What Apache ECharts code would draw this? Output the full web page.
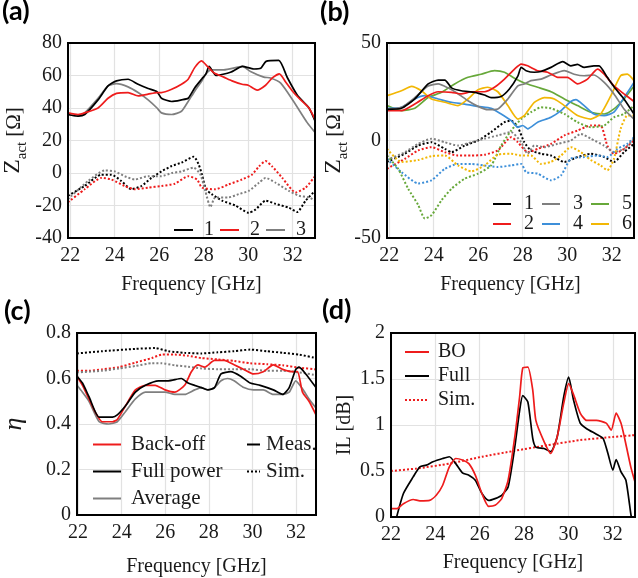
<!DOCTYPE html>
<html>
<head>
<meta charset="utf-8">
<script src="https://cdn.jsdelivr.net/npm/echarts@6/dist/echarts.min.js"></script>
<style>
  html, body { margin: 0; padding: 0; background: #fff; }
  #chart { width: 638px; height: 578px; }
</style>
</head>
<body>
<div id="chart"></div>
<script>
// ---------- (a) active impedance, ports 1-3 ----------
const aMeas1 = [[21.9,36],[22.35,35],[22.65,36],[23.25,45],[23.7,53.6],[24.08,56.7],[24.6,57.7],[25.05,54.6],[25.5,52],[25.9,50],[26.1,46],[26.56,44],[27.0,45],[27.3,46],[27.6,52.5],[27.92,58],[28.1,61],[28.24,65.6],[28.55,60],[29.2,62],[29.74,65.6],[30.25,64],[30.56,64.4],[30.8,68.7],[31.37,69.3],[31.76,58.6],[32.2,48],[32.73,40],[33,32]];
const aMeas2 = [[21.9,37],[22.35,36],[22.65,37],[23.25,40],[23.7,46],[24.08,49],[24.6,49.5],[25.05,47.5],[25.5,48.5],[25.9,49.5],[26.1,49.5],[26.56,51.5],[27.0,54.6],[27.3,57.7],[27.6,65],[27.9,69],[28.1,66.6],[28.47,61.5],[28.9,59],[29.27,56.7],[29.72,54.6],[30.0,54],[30.4,51],[30.78,54],[31.08,58.5],[31.4,61],[31.68,56],[31.98,50.5],[32.28,46],[32.73,40],[33,33]];
const aMeas3 = [[21.9,36],[22.35,35],[22.65,37],[23.25,46],[23.7,53.6],[24.08,55],[24.6,53],[25.05,49.5],[25.5,45],[25.9,40],[26.1,37],[26.56,36],[27.0,38],[27.3,44],[27.6,50.5],[27.92,56.7],[28.1,61],[28.33,63.5],[28.9,63.5],[29.74,65.6],[30.1,62.5],[30.7,59],[31.0,58.5],[31.46,55.3],[32.04,44],[32.65,31],[33,25]];
const aSim1 = [[21.9,-14],[22.65,-8],[23.4,-1],[23.85,-1],[24.3,-5],[24.75,-10],[25.2,-8],[25.65,-3],[26.1,1],[26.56,4.3],[27.0,6.4],[27.55,10],[27.77,5.4],[27.92,-1],[28.1,-10],[28.36,-13],[28.82,-17],[29.42,-20],[30.02,-24.5],[30.33,-22.5],[30.78,-17],[31.23,-19],[31.83,-21.4],[32.2,-24],[32.58,-17],[33,-11]];
const aSim2 = [[21.9,-18],[22.65,-10],[23.4,-3],[23.85,-4],[24.45,-8],[24.9,-10],[25.5,-9],[26.1,-8],[26.7,-6.6],[27.3,-2],[27.7,-4],[27.92,-9],[28.52,-10],[29.12,-7],[29.72,-4],[30.17,-1],[30.48,4],[30.78,7.4],[31.08,4],[31.53,-3],[32.13,-12],[32.58,-9],[33,-2]];
const aSim3 = [[21.9,-16],[22.8,-5],[23.55,1.6],[24.0,1],[24.45,-2],[24.9,-4],[25.5,-2],[26.1,-2],[26.56,0],[27.0,1],[27.55,3.3],[27.85,-1],[28.07,-11],[28.3,-21],[28.52,-15],[29.12,-15],[29.57,-13],[30.02,-11],[30.48,-6],[30.78,-3],[31.23,-6],[31.83,-11],[32.28,-14],[32.73,-15],[33,-17]];

// ---------- (b) active impedance, ports 1-6 ----------
const bMeas1 = [[21.9,16],[22.55,16.5],[23.15,21.3],[23.75,29],[24.2,31],[24.5,31],[24.8,27],[25.24,25.5],[25.84,24.7],[26.28,23.3],[26.58,22],[27.03,22.6],[27.4,26.4],[27.78,33],[27.93,37.5],[28.15,35.8],[28.52,35],[28.82,35.4],[29.27,37.5],[29.8,40.4],[30.16,38.3],[30.46,39],[30.76,37.5],[31.2,38.3],[31.43,38.3],[31.8,32.4],[32.18,26.4],[32.55,21.3],[33,13.6]];
const bMeas2 = [[21.9,15.3],[22.55,15.3],[23.15,18.7],[23.75,23],[24.2,25],[24.8,24.7],[25.24,23.9],[25.69,25],[26.28,25],[26.73,27.3],[27.18,31.5],[27.63,36.6],[27.93,39.2],[28.22,38.3],[28.67,35.8],[29.12,35],[29.57,32.4],[30.01,32.4],[30.46,29],[30.91,31.5],[31.36,36.6],[31.66,34],[32.1,28],[32.55,23.9],[33,20]];
const bMeas3 = [[21.9,16],[22.55,17],[23.15,22],[23.75,28],[24.2,29],[24.64,27],[25.09,24],[25.54,20.4],[25.99,17.5],[26.43,15.8],[26.88,16.2],[27.33,21.3],[27.78,28],[28.07,29],[28.37,30.7],[28.82,31.5],[29.27,33.6],[29.87,35.8],[30.31,34],[30.76,33.2],[31.2,33.6],[31.66,29.8],[32.1,23.9],[32.55,16.2],[33,11]];
const bMeas4 = [[21.9,16.5],[22.55,17],[23.15,21.3],[23.6,23],[24.2,21.3],[24.8,19.6],[25.39,18.7],[25.99,17.5],[26.58,16.5],[27.03,13.6],[27.48,10.2],[27.78,6.8],[28.0,7.7],[28.22,6],[28.67,9.4],[29.27,11.9],[29.72,15.3],[30.16,20],[30.39,21],[30.76,17.9],[31.2,13.6],[31.66,12.8],[32.1,14.5],[32.55,22],[33,29.8]];
const bMeas5 = [[21.9,17.9],[22.55,15.3],[23.15,16.5],[23.75,22],[24.35,24.7],[24.94,29],[25.54,32.4],[26.13,34],[26.73,35.8],[27.18,35],[27.63,31.9],[28.07,29.5],[28.67,27.3],[29.27,25],[29.87,21.3],[30.46,17.9],[31.06,14.5],[31.66,13.6],[32.1,16.2],[32.55,21.3],[33,28]];
const bMeas6 = [[21.9,23],[22.55,25.5],[23.0,27.8],[23.45,25.5],[23.9,21.3],[24.5,19.6],[25.09,17.9],[25.54,21.3],[25.99,26],[26.43,27.3],[26.88,25],[27.33,17.9],[27.78,11],[28.07,12.8],[28.52,19.6],[28.97,22],[29.42,21.3],[29.87,17.9],[30.46,12.8],[31.06,11],[31.5,13.6],[31.96,23],[32.4,33.2],[32.7,34],[33,30.7]];
const bSim1 = [[21.9,-11],[22.7,-6.8],[23.3,-2.6],[23.9,-0.9],[24.5,-4.3],[24.8,-6],[25.39,-2.6],[25.99,0],[26.58,4.3],[27.18,9.4],[27.48,10.2],[27.78,6.8],[28.07,-0.9],[28.37,-5.1],[28.82,-6.8],[29.27,-7.7],[29.87,-11],[30.46,-8.5],[31.06,-6.8],[31.66,-8.5],[32.1,-11],[32.55,-6],[33,-1.7]];
const bSim2 = [[21.9,-14.5],[22.7,-9.4],[23.3,-5.1],[23.9,-3.4],[24.5,-6],[25.09,-7.7],[25.69,-7.7],[26.28,-7.3],[26.88,-5.1],[27.48,1.7],[27.78,-0.9],[28.22,-6],[28.67,-4.3],[29.27,-1.7],[29.87,2.6],[30.46,5.1],[31.06,7.7],[31.5,7.7],[31.8,-2.6],[32.1,-6.8],[32.55,-4.3],[33,0]];
const bSim3 = [[21.9,-10],[22.7,-6],[23.3,-1.7],[23.9,0.9],[24.5,-0.9],[25.09,-2.6],[25.69,-0.9],[26.28,0.9],[26.88,2.6],[27.48,4.3],[27.93,-0.9],[28.22,-6.8],[28.52,-2.6],[28.97,-3.4],[29.57,-1.7],[30.16,0],[30.61,3.4],[31.06,0.9],[31.66,-2.6],[32.1,-6],[32.55,-4.3],[33,0.9]];
const bSim4 = [[21.9,-9.4],[22.55,-16.2],[23.3,-22],[23.9,-20.4],[24.5,-14.5],[25.09,-12],[25.69,-12],[26.28,-12.8],[26.88,-13.6],[27.48,-12.8],[27.93,-12],[28.15,-16.2],[28.67,-17],[29.27,-20.4],[29.72,-17.9],[30.16,-9.4],[30.76,-8.5],[31.36,-7.7],[31.8,-8.5],[32.25,-4.3],[32.7,-1.7],[33,1.7]];
const bSim5 = [[21.9,-7.7],[22.4,-14.5],[22.85,-24.7],[23.3,-33],[23.6,-40],[23.9,-38.3],[24.35,-30.7],[24.8,-24.7],[25.39,-19.6],[25.99,-17],[26.58,-12.8],[27.03,-2.6],[27.48,5.1],[27.93,11],[28.37,14.5],[28.82,17],[29.27,16.5],[29.87,13.6],[30.46,9.4],[31.06,6.8],[31.66,7.7],[32.1,11.9],[32.55,13.6],[33,17.9]];
const bSim6 = [[21.9,-4.3],[22.55,-11],[23.3,-10],[23.9,-8],[24.5,-7.7],[25.09,-12.8],[25.69,-15.8],[26.28,-12.8],[26.88,-7.3],[27.48,-6.8],[27.93,-7.7],[28.37,-7.7],[28.82,-12],[29.27,-11],[29.72,-7.7],[30.16,-3.4],[30.61,-6],[31.06,-10],[31.5,-12.8],[31.8,-15.3],[32.1,-9.4],[32.4,6],[32.7,12.8],[33,12.8]];

// ---------- (c) efficiency ----------
const cBackoff = [[21.95,0.61],[22.2,0.57],[22.5,0.51],[22.8,0.45],[23.1,0.41],[23.58,0.41],[23.8,0.42],[24.18,0.48],[24.63,0.55],[25.09,0.57],[25.54,0.57],[25.99,0.55],[26.44,0.54],[26.89,0.57],[27.2,0.63],[27.5,0.66],[27.81,0.65],[28.26,0.68],[28.71,0.68],[29.16,0.66],[29.61,0.64],[30.05,0.62],[30.5,0.63],[30.96,0.66],[31.39,0.64],[31.84,0.63],[32.07,0.63],[32.3,0.54],[32.6,0.50],[32.92,0.44]];
const cFull = [[21.95,0.61],[22.2,0.58],[22.5,0.52],[22.97,0.43],[23.58,0.43],[23.8,0.44],[24.18,0.48],[24.63,0.54],[25.09,0.57],[25.69,0.59],[26.14,0.59],[26.74,0.6],[27.05,0.58],[27.35,0.57],[27.66,0.56],[27.96,0.55],[28.26,0.56],[28.56,0.62],[29.01,0.63],[29.46,0.61],[29.9,0.58],[30.36,0.57],[30.96,0.55],[31.39,0.53],[31.69,0.56],[31.99,0.64],[32.14,0.65],[32.45,0.62],[32.92,0.56]];
const cAverage = [[21.95,0.57],[22.2,0.54],[22.5,0.50],[22.97,0.41],[23.4,0.40],[23.8,0.41],[24.18,0.455],[24.63,0.51],[25.09,0.54],[25.54,0.54],[25.99,0.54],[26.44,0.53],[26.89,0.53],[27.35,0.55],[27.66,0.56],[27.96,0.55],[28.26,0.56],[28.56,0.59],[28.86,0.6],[29.16,0.59],[29.61,0.56],[30.05,0.55],[30.5,0.55],[30.96,0.53],[31.39,0.53],[31.69,0.54],[31.99,0.59],[32.3,0.555],[32.6,0.51],[32.92,0.47]];
const cSimFull = [[21.95,0.71],[23.1,0.72],[24.63,0.73],[25.54,0.734],[26.14,0.72],[26.89,0.713],[27.66,0.71],[28.41,0.715],[29.16,0.72],[29.9,0.727],[30.66,0.72],[31.39,0.713],[32.14,0.705],[32.92,0.69]];
const cSimBackoff = [[21.95,0.634],[22.5,0.634],[23.1,0.64],[23.88,0.65],[24.63,0.67],[25.39,0.69],[25.84,0.705],[26.44,0.705],[27.05,0.70],[27.66,0.69],[28.41,0.684],[29.16,0.677],[29.9,0.667],[30.66,0.663],[31.39,0.658],[32.14,0.648],[32.92,0.64]];
const cSimAverage = [[21.95,0.627],[23.1,0.634],[23.88,0.644],[24.63,0.655],[25.39,0.667],[25.84,0.667],[26.44,0.658],[27.05,0.652],[27.66,0.644],[28.41,0.641],[29.16,0.641],[29.9,0.641],[30.66,0.634],[31.39,0.634],[32.14,0.627],[32.92,0.615]];

// ---------- (d) insertion loss ----------
const dBO = [[22,0.09],[22.27,0.09],[22.56,0.145],[23.0,0.19],[23.3,0.175],[23.74,0.18],[24.04,0.236],[24.33,0.345],[24.63,0.545],[24.92,0.636],[25.22,0.62],[25.51,0.58],[25.8,0.455],[26.1,0.255],[26.4,0.116],[26.69,0.127],[26.99,0.2],[27.28,0.4],[27.58,0.87],[27.8,1.31],[27.94,1.62],[28.17,1.63],[28.39,1.38],[28.53,1.05],[28.9,0.82],[29.2,0.69],[29.49,0.87],[29.79,1.24],[30.01,1.45],[30.23,1.33],[30.53,1.13],[30.82,1.05],[31.26,1.05],[31.7,1.02],[31.93,0.945],[32.15,1.13],[32.37,1.02],[32.52,0.87],[32.81,0.545],[33,0.38]];
const dFull = [[22.2,-0.05],[22.56,0.255],[23.0,0.436],[23.3,0.545],[23.59,0.564],[23.89,0.6],[24.33,0.636],[24.63,0.655],[24.92,0.58],[25.22,0.48],[25.51,0.455],[25.8,0.4],[26.1,0.255],[26.4,0.18],[26.69,0.2],[26.99,0.236],[27.28,0.327],[27.58,0.76],[27.8,1.16],[27.94,1.32],[28.17,1.25],[28.39,0.855],[28.53,0.76],[28.9,0.745],[29.2,0.71],[29.49,0.87],[29.79,1.31],[30.01,1.52],[30.23,1.27],[30.53,1.02],[30.82,0.96],[31.26,0.9],[31.56,0.855],[31.78,0.69],[32,0.51],[32.15,0.625],[32.37,0.49],[32.59,0.4],[32.81,0.036],[32.9,-0.1]];
const dSim = [[22,0.5],[23.15,0.527],[24.63,0.58],[26.1,0.655],[27.58,0.72],[29.05,0.78],[30.53,0.836],[32,0.87],[33,0.89]];

// y-axis extents and tick step: [min, max, interval]
const yTicksA = [-40, 80, 20];
const yTicksB = [-50, 50, 50];
const yTicksC = [0, 0.8, 0.2];
const yTicksD = [0, 2, 0.5];

const SERIF = '"Liberation Serif", "DejaVu Serif", serif';
const TXT = '#1a1a1a';
const C = { black: '#000000', red: '#ee1c1c', gray: '#7f7f7f', blue: '#3d8fd9', green: '#67a83a', yellow: '#f2b705' };

const legendNames = {
  a1: '1', a2: '2', a3: '3',
  b1: '1', b2: '2', b3: '3', b4: '4', b5: '5', b6: '6',
  'Back-off': 'Back-off', 'Full power': 'Full power', 'Average': 'Average',
  cMeas: 'Meas.', cSim: 'Sim.', BO: 'BO', Full: 'Full', dSim: 'Sim.'
};

const grids = [
  { left: 67, top: 43, width: 248, height: 195 },
  { left: 387, top: 43, width: 247, height: 195 },
  { left: 74, top: 333, width: 242, height: 186 },
  { left: 391, top: 333, width: 250, height: 184 }
].map(g => Object.assign(g, { show: true, borderColor: '#000', borderWidth: 2, containLabel: false, z: 5 }));

const evenLabel = v => (Math.abs(v - Math.round(v)) < 1e-6 && Math.round(v) % 2 === 0) ? String(Math.round(v)) : '';

function xAxis(idx, min, max, gap) {
  return {
    type: 'value', gridIndex: idx, min: min, max: max, splitNumber: 5,
    name: 'Frequency [GHz]', nameLocation: 'middle', nameGap: gap,
    nameTextStyle: { fontFamily: SERIF, fontSize: 20, color: TXT },
    axisLine: { show: false }, axisTick: { show: false },
    axisLabel: { formatter: evenLabel, fontFamily: SERIF, fontSize: 20, color: TXT, margin: 8 },
    splitLine: { show: true, lineStyle: { color: '#e2e2e2', width: 1.2 } }
  };
}

function yAxis(idx, ticks, name, gap, nameStyle) {
  return {
    type: 'value', gridIndex: idx, min: ticks[0], max: ticks[1], interval: ticks[2],
    name: name, nameLocation: 'middle', nameGap: gap, nameRotate: 90,
    nameTextStyle: Object.assign({ fontFamily: SERIF, fontSize: 20, color: TXT }, nameStyle || {}),
    axisLine: { show: false }, axisTick: { show: false },
    axisLabel: { fontFamily: SERIF, fontSize: 20, color: TXT, margin: 6 },
    splitLine: { show: true, lineStyle: { color: '#e2e2e2', width: 1.2 } }
  };
}

// Z with subscript "act"
const zName = {
  rich: {
    z: { fontFamily: SERIF, fontSize: 24, color: TXT, padding: [0, 0, 5, 0], verticalAlign: 'bottom' },
    s: { fontFamily: SERIF, fontSize: 15, color: TXT, verticalAlign: 'bottom' },
    n: { fontFamily: SERIF, fontSize: 21, color: TXT, padding: [0, 0, 5, 0], verticalAlign: 'bottom' }
  }
};

function line(name, idx, data, color, dotted, z) {
  return {
    type: 'line', name: name, xAxisIndex: idx, yAxisIndex: idx, data: data,
    symbol: 'none', smooth: 0.2, silent: true, animation: false, z: z || 2,
    lineStyle: dotted ? { color: color, width: 2, type: [2, 2] } : { color: color, width: 1.7 },
    itemStyle: { color: color }
  };
}

const series = [
  // (a)
  line('aSim1', 0, aSim1, C.black, true), line('aSim2', 0, aSim2, C.red, true), line('aSim3', 0, aSim3, C.gray, true),
  line('a3', 0, aMeas3, C.gray), line('a1', 0, aMeas1, C.black), line('a2', 0, aMeas2, C.red),
  // (b)
  line('bSim1', 1, bSim1, C.black, true), line('bSim2', 1, bSim2, C.red, true), line('bSim3', 1, bSim3, C.gray, true),
  line('bSim4', 1, bSim4, C.blue, true), line('bSim5', 1, bSim5, C.green, true), line('bSim6', 1, bSim6, C.yellow, true),
  line('b5', 1, bMeas5, C.green), line('b4', 1, bMeas4, C.blue), line('b6', 1, bMeas6, C.yellow),
  line('b3', 1, bMeas3, C.gray), line('b2', 1, bMeas2, C.red), line('b1', 1, bMeas1, C.black),
  // (c)
  line('cSimFull', 2, cSimFull, C.black, true), line('cSimBackoff', 2, cSimBackoff, C.red, true), line('cSimAverage', 2, cSimAverage, C.gray, true),
  line('Average', 2, cAverage, C.gray), line('Back-off', 2, cBackoff, C.red), line('Full power', 2, cFull, C.black),
  line('cMeas', 2, [], C.black), line('cSim', 2, [], C.black, true),
  // (d)
  line('dSim', 3, dSim, C.red, true), line('Full', 3, dFull, C.black), line('BO', 3, dBO, C.red)
];

// legend icons: line only, no marker
const legendBase = {
  selectedMode: false, formatter: n => legendNames[n] || n, padding: 0,
  itemHeight: 12, itemStyle: { opacity: 0 }
};
const legends = [
  Object.assign({}, legendBase, { data: ['a1', 'a2', 'a3'], left: 173, top: 220, itemWidth: 19, itemGap: 5,
    textStyle: { fontFamily: SERIF, fontSize: 20, color: TXT, padding: [0, 0, 0, 6] } }),
  Object.assign({}, legendBase, { data: ['b1', 'b3', 'b5'], left: 492, top: 194, itemWidth: 18, itemGap: 7,
    textStyle: { fontFamily: SERIF, fontSize: 20, color: TXT, padding: [0, 0, 0, 8] } }),
  Object.assign({}, legendBase, { data: ['b2', 'b4', 'b6'], left: 492, top: 214, itemWidth: 18, itemGap: 7,
    textStyle: { fontFamily: SERIF, fontSize: 20, color: TXT, padding: [0, 0, 0, 8] } }),
  Object.assign({}, legendBase, { data: ['Back-off', 'Full power', 'Average'], orient: 'vertical', left: 92, top: 434,
    itemWidth: 28, itemGap: 6, textStyle: { fontFamily: SERIF, fontSize: 21, color: TXT, padding: [0, 0, 0, 5] } }),
  Object.assign({}, legendBase, { data: ['cMeas', 'cSim'], orient: 'vertical', left: 246, top: 434,
    itemWidth: 13, itemGap: 6, textStyle: { fontFamily: SERIF, fontSize: 21, color: TXT, padding: [0, 0, 0, 1] } }),
  Object.assign({}, legendBase, { data: ['BO', 'Full', 'dSim'], orient: 'vertical', left: 404, top: 342,
    itemWidth: 24, itemGap: 4, textStyle: { fontFamily: SERIF, fontSize: 20, color: TXT, padding: [0, 0, 0, 4] } })
];

const panelLabel = (text, left, top) => ({
  text: text, left: left, top: top, padding: 0,
  textStyle: { fontFamily: 'Lato, "Open Sans", sans-serif', fontWeight: 'bold', fontSize: 27, color: '#000' }
});

const chart = echarts.init(document.getElementById('chart'), null, { renderer: 'canvas' });
chart.setOption({
  animation: false,
  backgroundColor: '#fff',
  title: [panelLabel('(a)', 2, -2), panelLabel('(b)', 320, -1), panelLabel('(c)', 4, 298), panelLabel('(d)', 322, 297)],
  grid: grids,
  xAxis: [xAxis(0, 21.9, 33, 37), xAxis(1, 21.9, 33, 37), xAxis(2, 21.95, 32.92, 42), xAxis(3, 22, 33, 36)],
  yAxis: [
    yAxis(0, yTicksA, '{z|Z}{s|act} {n|[Ω]}', 38, zName),
    yAxis(1, yTicksB, '{z|Z}{s|act} {n|[Ω]}', 34, zName),
    yAxis(2, yTicksC, 'η', 50, { fontStyle: 'italic', fontSize: 26 }),
    yAxis(3, yTicksD, 'IL [dB]', 36, null)
  ],
  legend: legends,
  series: series
});
</script>
</body>
</html>
